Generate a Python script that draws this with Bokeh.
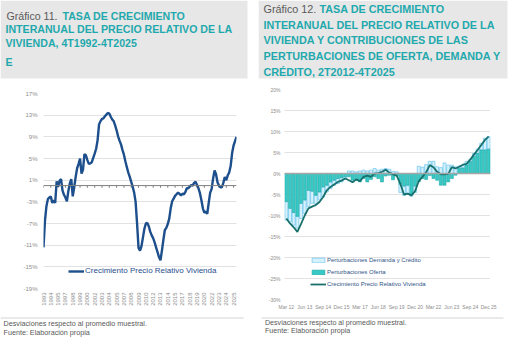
from bokeh.plotting import figure
from bokeh.layouts import row, column
from bokeh.models import Range1d, FixedTicker, PrintfTickFormatter, Span, ColumnDataSource
from bokeh.core.properties import value
from bokeh.embed import file_html
from bokeh.resources import INLINE
from math import pi

FONT = "Liberation Sans"

# ---------------- data ----------------
# Gráfico 11: quarterly, 4T1992 .. 4T2025
g11_values = [-11.4, -6.5, -3.8, -2.5, -2.2, -2.0, -3.2, -2.7, -3.2, 0.8,
              -0.2, 0.9, 1.2, -0.9, -1.7, -2.2, -2.9, -1.0, 0.4, 1.2,
              -2.0, -0.3, 1.6, 3.2, 4.0, 5.0, 2.2, 2.9, 5.8, 5.6,
              4.7, 4.0, 4.1, 4.3, 5.1, 5.9, 6.8, 8.4, 11.3, 11.9,
              12.3, 12.4, 12.8, 13.1, 13.4, 13.3, 12.7, 12.2, 11.9, 11.1,
              10.2, 9.1, 8.3, 7.6, 6.6, 5.7, 4.5, 3.4, 2.4, 1.6,
              0.7, -0.2, -1.3, -3.0, -7.0, -11.5, -12.0, -11.2, -9.6, -8.0,
              -7.0, -6.9, -7.5, -8.5, -9.2, -9.7, -10.5, -11.4, -12.3, -13.2,
              -13.8, -12.0, -10.0, -8.2, -7.8, -7.1, -6.1, -4.2, -2.9, -2.4,
              -1.9, -1.6, -1.3, -1.5, -1.8, -1.5, -1.6, -1.2, -0.5, -0.5,
              -0.2, 0.1, 0.0, 0.5, 0.7, 0.1, -0.5, -1.4, -2.7, -4.2,
              -5.0, -4.8, -5.2, -3.2, -1.3, -0.6, 1.3, 2.8, 2.1, 0.6,
              0.0, -0.3, -0.3, 0.5, 1.6, 1.0, 1.9, 2.4, 3.6, 6.0,
              7.4, 8.2, 9.0]
g11_tick_labels = ["1993", "1994", "1995", "1997", "1998", "1999", "2000", "2002", "2003",
                   "2004", "2005", "2007", "2008", "2009", "2010", "2012", "2013", "2014",
                   "2015", "2017", "2018", "2019", "2020", "2022", "2023", "2024", "2025"]
g11_tick_step = 5
g11_yticks = [17, 13, 9, 5, 1, -3, -7, -11, -15, -19]

# Gráfico 12: quarterly, Mar 12 .. Dec 25
g12_oferta = [-6.7, -8.3, -9.3, -10.2, -7.1, -6.3, -4.0, -4.2, -5.2, -4.4,
              -3.2, -2.8, -2.0, -1.6, -1.2, -1.0, -0.8, -0.8, -1.6, -1.6,
              -2.0, -1.2, -2.0, -1.4, -0.8, -1.2, -2.0, -0.6, -0.4, -1.5,
              -0.6, -2.5, -3.0, -2.8, -5.0, -3.0, -2.0, -1.2, -1.4, -0.5,
              -1.2, -1.6, -2.8, -2.8, -2.0, -1.2, -0.4, 1.2, 1.3, 2.0,
              2.8, 4.0, 4.8, 5.6, 5.6, 5.8]
g12_demanda = [-4.4, -3.2, -3.0, -2.8, -3.6, -3.2, -3.9, -2.9, -2.0, -1.9,
               -2.4, -1.6, -1.6, -1.2, -1.2, -1.0, -0.5, 0.6, 0.6, 0.4,
               0.6, 0.8, 0.6, 0.8, 1.2, 0.8, 1.0, 1.2, 1.0, 0.5,
               0.4, -2.0, -2.2, -2.2, -0.4, -1.5, 1.7, 1.5, 2.1, 2.9,
               2.9, 1.6, 1.4, 2.5, 2.0, 2.0, 1.6, 0.6, 0.6, 0.9,
               0.6, 0.8, 1.0, 1.6, 2.8, 3.0]
g12_crecimiento = [-10.7, -11.9, -12.8, -13.9, -12.0, -10.0, -8.3, -7.9, -7.5, -6.8,
                   -5.6, -4.0, -3.2, -2.6, -2.0, -1.7, -1.2, -1.6, -2.1, -1.4,
                   -1.8, -0.8, -0.5, -0.8, 0.0, 0.1, 0.4, 0.9, 0.2, -0.2,
                   -0.5, -2.5, -5.0, -4.8, -5.2, -4.2, -1.8, -0.8, 0.3, 2.0,
                   1.5, 0.4, -0.2, -0.2, -0.1, 1.5, 1.2, 1.6, 2.1, 2.3,
                   3.3, 4.5, 5.6, 6.8, 8.0, 8.8]
g12_tick_labels = ["Mar 12", "Jun 13", "Sep 14", "Dec 15", "Mar 17", "Jun 18",
                   "Sep 19", "Dec 20", "Mar 22", "Jun 23", "Sep 24", "Dec 25"]
g12_tick_step = 5
g12_yticks = [20, 15, 10, 5, 0, -5, -10, -15, -20, -25, -30]

TEAL_TITLE = "#1fa9ad"
GREY_TXT = "#595959"
HEADER_BG = "#e7e7e7"


def no_align(p):
    try:
        p.frame_align = False
    except AttributeError:
        pass


def blank(width, height):
    p = figure(width=width, height=height, x_range=Range1d(0, width), y_range=Range1d(height, 0),
               output_backend="svg", toolbar_location=None, x_axis_location=None,
               y_axis_location=None, min_border=0, outline_line_color=None)
    p.grid.visible = False
    no_align(p)
    return p


def txt(p, x, y, s, size, color, bold=False):
    p.text(x=[x], y=[y], text=[s], text_font=value(FONT), text_font_size=size,
           text_color=color, text_baseline="middle", text_align="left",
           text_font_style="bold" if bold else "normal")


# ---------------- headers ----------------
h1 = blank(258, 80)
h1.quad(left=[0], right=[247], top=[0], bottom=[78], fill_color=HEADER_BG, line_color=None)
txt(h1, 6, 15.3, "Gráfico 11.", "10.6px", GREY_TXT)
txt(h1, 62, 15.3, "TASA DE CRECIMIENTO", "10.6px", TEAL_TITLE, True)
txt(h1, 5, 28.6, "INTERANUAL DEL PRECIO RELATIVO DE LA", "10.6px", TEAL_TITLE, True)
txt(h1, 5, 42.6, "VIVIENDA, 4T1992-4T2025", "10.6px", TEAL_TITLE, True)
txt(h1, 5, 61.0, "E", "10.6px", TEAL_TITLE, True)

h2 = blank(259, 80)
h2.quad(left=[0], right=[249], top=[0], bottom=[78], fill_color=HEADER_BG, line_color=None)
txt(h2, 5, 8.0, "Gráfico 12.", "10.8px", GREY_TXT)
txt(h2, 61, 8.0, "TASA DE CRECIMIENTO", "10.8px", TEAL_TITLE, True)
txt(h2, 5, 24.0, "INTERANUAL DEL PRECIO RELATIVO DE LA", "10.8px", TEAL_TITLE, True)
txt(h2, 5, 39.8, "VIVIENDA Y CONTRIBUCIONES DE LAS", "10.8px", TEAL_TITLE, True)
txt(h2, 5, 55.6, "PERTURBACIONES DE OFERTA, DEMANDA Y", "10.8px", TEAL_TITLE, True)
txt(h2, 5, 71.4, "CRÉDITO, 2T2012-4T2025", "10.8px", TEAL_TITLE, True)

# ---------------- chart 11 ----------------
n11 = len(g11_values)
src11 = ColumnDataSource(dict(x=list(range(n11)), y=g11_values))
p1 = figure(width=258, height=236, x_range=Range1d(0, n11 - 1), y_range=Range1d(min(g11_yticks), max(g11_yticks)),
            output_backend="svg", toolbar_location=None, min_border_left=43, min_border_right=22,
            min_border_top=13, min_border_bottom=28, outline_line_color=None)
no_align(p1)
p1.xgrid.visible = False
p1.ygrid.grid_line_color = "#c4c4c4"
p1.ygrid.grid_line_dash = "1 1"
p1.yaxis.ticker = FixedTicker(ticks=g11_yticks)
p1.yaxis.formatter = PrintfTickFormatter(format="%d%%")
ticks11 = [i * g11_tick_step for i in range(len(g11_tick_labels))]
p1.xaxis.ticker = FixedTicker(ticks=ticks11)
p1.xaxis.major_label_overrides = {t: lab for t, lab in zip(ticks11, g11_tick_labels)}
p1.xaxis.major_label_orientation = pi / 2
for ax in (p1.xaxis, p1.yaxis):
    ax.axis_line_color = None
    ax.major_tick_line_color = None
    ax.minor_tick_line_color = None
    ax.major_tick_out = 0
    ax.major_tick_in = 0
    ax.major_label_text_font = FONT
    ax.major_label_text_font_size = "6px"
    ax.major_label_text_color = "#8c8c8c"
p1.yaxis.major_label_standoff = 6
p1.xaxis.major_label_standoff = 4
p1.add_layout(Span(location=0, dimension="width", line_color="#7f7f7f", line_width=1))
p1.segment(x0=ticks11, y0=[0] * len(ticks11), x1=ticks11, y1=[-0.4] * len(ticks11),
           line_color="#7f7f7f", line_width=1)
p1.line("x", "y", source=src11, line_color="#1c4f8c", line_width=2.4,
        legend_label="Crecimiento Precio Relativo Vivienda")
lg1 = p1.legend[0]
lg1.location = (25, 13)
lg1.glyph_width = 16
lg1.glyph_height = 6
lg1.label_height = 6
lg1.label_standoff = 1
lg1.padding = 0
lg1.margin = 0
lg1.border_line_color = None
lg1.background_fill_alpha = 0
lg1.label_text_font = FONT
lg1.label_text_font_size = "8px"
lg1.label_text_color = "#1f4e8c"

# ---------------- chart 12 ----------------
n12 = len(g12_oferta)
xs12 = list(range(n12))
of_bottom = [0.0] * n12
of_top = list(g12_oferta)
de_bottom = [o if (o >= 0) == (d >= 0) else 0.0 for o, d in zip(g12_oferta, g12_demanda)]
de_top = [b + d for b, d in zip(de_bottom, g12_demanda)]
src12 = ColumnDataSource(dict(x=xs12, of_b=of_bottom, of_t=of_top, de_b=de_bottom, de_t=de_top,
                              crec=g12_crecimiento))

p2 = figure(width=259, height=236, x_range=Range1d(-0.5, n12 - 0.5),
            y_range=Range1d(min(g12_yticks), max(g12_yticks)),
            output_backend="svg", toolbar_location=None, min_border_left=26, min_border_right=27,
            min_border_top=9, min_border_bottom=17, outline_line_color=None)
no_align(p2)
p2.xgrid.visible = False
p2.ygrid.grid_line_color = "#c4c4c4"
p2.ygrid.grid_line_dash = "1 1"
p2.yaxis.ticker = FixedTicker(ticks=g12_yticks)
p2.yaxis.formatter = PrintfTickFormatter(format="%d%%")
ticks12 = [i * g12_tick_step for i in range(len(g12_tick_labels))]
p2.xaxis.ticker = FixedTicker(ticks=ticks12)
p2.xaxis.major_label_overrides = {t: lab for t, lab in zip(ticks12, g12_tick_labels)}
for ax in (p2.xaxis, p2.yaxis):
    ax.axis_line_color = None
    ax.major_tick_line_color = None
    ax.minor_tick_line_color = None
    ax.major_tick_out = 0
    ax.major_tick_in = 0
    ax.major_label_text_font = FONT
    ax.major_label_text_font_size = "5px"
    ax.major_label_text_color = "#8c8c8c"
p2.yaxis.major_label_standoff = 4
p2.xaxis.major_label_standoff = 4

p2.vbar(x="x", bottom="de_b", top="de_t", width=0.82, source=src12, fill_color="#d4f1fc",
        line_color="#6cc4ee", line_width=0.7, legend_label="Perturbaciones Demanda y Crédito")
p2.vbar(x="x", bottom="of_b", top="of_t", width=0.82, source=src12, fill_color="#36c9c6",
        line_color="#26a9a6", line_width=0.6, legend_label="Perturbaciones Oferta")
p2.add_layout(Span(location=0, dimension="width", line_color="#a6a6a6", line_width=1.4))
p2.line("x", "crec", source=src12, line_color="#17706b", line_width=1.8,
        legend_label="Crecimiento Precio Relativo Vivienda")
lg2 = p2.legend[0]
lg2.location = (26, 12)
lg2.glyph_width = 16
lg2.glyph_height = 6
lg2.label_height = 6
lg2.spacing = 6
lg2.label_standoff = 1
lg2.padding = 0
lg2.margin = 0
lg2.border_line_color = None
lg2.background_fill_alpha = 0
lg2.label_text_font = FONT
lg2.label_text_font_size = "6px"
lg2.label_text_color = "#2f5487"

# ---------------- footers ----------------
f1 = blank(258, 34)
f1.segment(x0=[0], y0=[1.5], x1=[243], y1=[1.5], line_color="#d4d4d4", line_width=1)
txt(f1, 3, 7.3, "Desviaciones respecto al promedio muestral.", "7.2px", GREY_TXT)
txt(f1, 3, 15.7, "Fuente: Elaboración propia", "7.2px", GREY_TXT)

f2 = blank(259, 34)
f2.segment(x0=[3], y0=[1.5], x1=[245], y1=[1.5], line_color="#d4d4d4", line_width=1)
txt(f2, 6.5, 6.7, "Desviaciones respecto al promedio muestral.", "7.1px", GREY_TXT)
txt(f2, 6.5, 14.7, "Fuente: Elaboración propia", "7.1px", GREY_TXT)

layout = row(column(h1, p1, f1, spacing=0), column(h2, p2, f2, spacing=0), spacing=0)

open("out.html", "w").write(file_html(layout, INLINE))
